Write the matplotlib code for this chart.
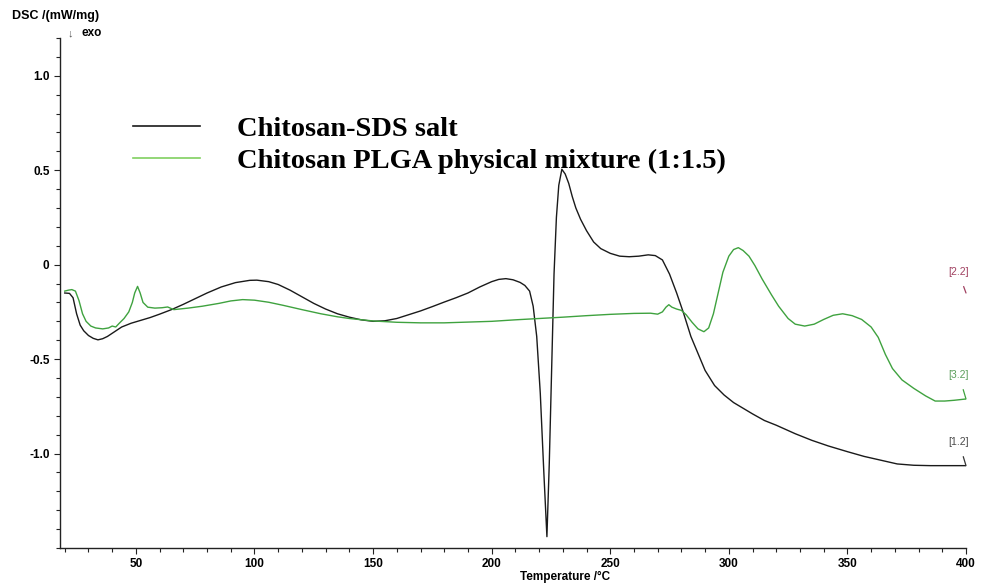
import matplotlib
matplotlib.use("Agg")
import matplotlib.pyplot as plt
from matplotlib.ticker import MultipleLocator, FuncFormatter

# ---------------- data ----------------
temp_sds = [20, 22, 23.5, 25, 26.5, 28, 30, 32, 34, 36, 38, 41, 44, 48, 52, 56, 60, 65, 70, 75,
            80, 86, 92, 98, 101, 106, 110, 115, 120, 125, 130, 135, 140, 145, 150, 155, 160, 165,
            170, 175, 180, 185, 190, 195, 200, 203, 206, 209, 212, 214, 216, 217.5, 219, 220.5,
            222, 223.3, 224.3, 225.3, 226.3, 227.3, 228.3, 229.6, 231, 232.5, 234, 235.5, 237.5,
            240, 243, 246, 250, 254, 258, 262, 266, 269, 272, 275, 278, 281, 284, 287, 290, 294,
            298, 302, 306, 310, 315, 320, 328, 335, 342, 350, 357, 364, 371, 378, 385, 392, 400]
dsc_sds = [-0.150, -0.152, -0.175, -0.26, -0.32, -0.35, -0.375, -0.39, -0.398, -0.392, -0.38,
           -0.355, -0.33, -0.31, -0.295, -0.28, -0.262, -0.238, -0.21, -0.18, -0.15, -0.118,
           -0.095, -0.083, -0.082, -0.09, -0.105, -0.135, -0.17, -0.205, -0.235, -0.26, -0.278,
           -0.292, -0.300, -0.297, -0.285, -0.265, -0.245, -0.222, -0.198, -0.175, -0.150,
           -0.118, -0.090, -0.078, -0.074, -0.080, -0.094, -0.110, -0.140, -0.22, -0.38, -0.68,
           -1.10, -1.44, -1.05, -0.55, -0.05, 0.25, 0.42, 0.505, 0.48, 0.43, 0.36, 0.30, 0.24,
           0.18, 0.12, 0.085, 0.06, 0.045, 0.042, 0.045, 0.052, 0.048, 0.025, -0.05, -0.15,
           -0.26, -0.38, -0.47, -0.56, -0.64, -0.69, -0.73, -0.76, -0.79, -0.825, -0.85, -0.895,
           -0.93, -0.96, -0.99, -1.015, -1.035, -1.055, -1.062, -1.064, -1.064, -1.064]

temp_plga = [20, 21.5, 23, 24.5, 26, 27.5, 29, 31, 33, 36, 38.5, 40, 41.5, 43, 45, 47, 48.5, 49.5,
             50.7, 51.8, 53, 55, 58, 61, 63.4, 66, 72, 78, 85, 90, 95, 100, 106, 112, 120, 128,
             135, 140, 150, 160, 170, 180, 190, 200, 210, 220, 230, 240, 250, 260, 267, 270, 272,
             273.5, 274.7, 276, 278, 280, 282, 284.5, 287, 289.5, 291.5, 293.5, 295.5, 297.5, 300,
             302, 304, 306, 308.5, 311, 314, 318, 321, 325, 328, 332, 336, 340, 344, 348, 352,
             356, 360, 363, 366, 369, 373, 378, 383, 387, 391, 395, 400]
dsc_plga = [-0.14, -0.135, -0.132, -0.14, -0.19, -0.26, -0.30, -0.325, -0.335, -0.340, -0.335,
            -0.325, -0.33, -0.31, -0.285, -0.25, -0.20, -0.15, -0.115, -0.15, -0.20, -0.225,
            -0.230, -0.228, -0.224, -0.238, -0.230, -0.220, -0.205, -0.192, -0.185, -0.188,
            -0.199, -0.215, -0.238, -0.260, -0.276, -0.285, -0.298, -0.305, -0.308, -0.308,
            -0.304, -0.300, -0.292, -0.285, -0.278, -0.270, -0.263, -0.258, -0.257, -0.262,
            -0.250, -0.225, -0.212, -0.225, -0.235, -0.242, -0.265, -0.305, -0.34, -0.355,
            -0.335, -0.26, -0.15, -0.04, 0.045, 0.080, 0.090, 0.075, 0.045, -0.005, -0.075,
            -0.16, -0.22, -0.285, -0.315, -0.325, -0.315, -0.29, -0.268, -0.260, -0.270, -0.290,
            -0.33, -0.385, -0.475, -0.55, -0.610, -0.655, -0.695, -0.722, -0.722, -0.718, -0.711]

series_labels = ["Chitosan-SDS salt", "Chitosan PLGA physical mixture (1:1.5)"]
curve_ids = ["[1.2]", "[3.2]", "[2.2]"]
x_ticks = [50, 100, 150, 200, 250, 300, 350, 400]
y_ticks = [-1.0, -0.5, 0.0, 0.5, 1.0]

# ---------------- figure ----------------
plt.rcParams['font.family'] = ['Liberation Sans', 'DejaVu Sans']
fig = plt.figure(figsize=(9.83, 5.88), dpi=100)
ax = fig.add_axes([60/983, 1-548/588, (966-60)/983, (548-38)/588])

black = '#1a1a1a'
green = '#3fa23f'
ax.plot(temp_sds, dsc_sds, color=black, lw=1.0)
ax.plot(temp_plga, dsc_plga, color=green, lw=1.0)

ax.set_xlim(18, 400)
ax.set_ylim(-1.5, 1.2)

for s in ['top', 'right']:
    ax.spines[s].set_visible(False)
for s in ['left', 'bottom']:
    ax.spines[s].set_color('#222222')
    ax.spines[s].set_linewidth(1.0)

ax.set_xticks(x_ticks)
ax.set_yticks(y_ticks)
ax.xaxis.set_minor_locator(MultipleLocator(10))
ax.yaxis.set_minor_locator(MultipleLocator(0.1))
ax.yaxis.set_major_formatter(FuncFormatter(lambda v, p: "0" if abs(v) < 1e-9 else f"{v:.1f}"))
ax.tick_params(axis='both', which='both', direction='out', color='#222222', width=0.8)
ax.tick_params(axis='both', which='major', length=4, labelsize=8.5)
ax.tick_params(axis='both', which='minor', length=3)
for lab in ax.get_xticklabels() + ax.get_yticklabels():
    lab.set_fontweight('bold')

ax.set_xlabel("Temperature /°C", fontsize=8.5, fontweight='bold', labelpad=1)
ax.xaxis.set_label_coords(0.557, -0.045)

fig.text(12/983, 1-16/588, "DSC /(mW/mg)", fontsize=9, fontweight='bold', va='center', ha='left')
fig.text(68/983, 1-33/588, "\u2193", fontsize=8, color='#555555', va='center', ha='left')
fig.text(81/983, 1-33/588, "exo", fontsize=8.5, fontweight='bold', va='center', ha='left')

# curve end labels
ax.annotate(curve_ids[0], xy=(temp_sds[-1], dsc_sds[-1]), xytext=(397.0, -0.94),
            fontsize=7.5, color='#4a4a4a', ha='center', va='center',
            arrowprops=dict(arrowstyle='-', color='#333333', lw=0.9, shrinkA=5, shrinkB=0))
ax.annotate(curve_ids[1], xy=(temp_plga[-1], dsc_plga[-1]), xytext=(397.0, -0.585),
            fontsize=7.5, color='#5c9e5c', ha='center', va='center',
            arrowprops=dict(arrowstyle='-', color='#3fa23f', lw=0.9, shrinkA=5, shrinkB=0))
ax.annotate(curve_ids[2], xy=(400.0, -0.15), xytext=(396.8, -0.04),
            fontsize=7.5, color='#a04060', ha='center', va='center',
            arrowprops=dict(arrowstyle='-', color='#a04060', lw=0.9, shrinkA=5, shrinkB=0))

# legend
h1, = ax.plot([], [], color=black, lw=1.2)
h2, = ax.plot([], [], color='#80d060', lw=1.2)
leg = ax.legend([h1, h2], series_labels, loc='upper left',
                bbox_to_anchor=((133-60)/906, (548-116)/510), frameon=False,
                prop=dict(family=['Liberation Serif', 'DejaVu Serif'], weight='bold', size=20.5),
                handlelength=2.35, handletextpad=1.3, labelspacing=0.21,
                borderpad=0, borderaxespad=0)

fig.savefig("out.png", dpi=100)
